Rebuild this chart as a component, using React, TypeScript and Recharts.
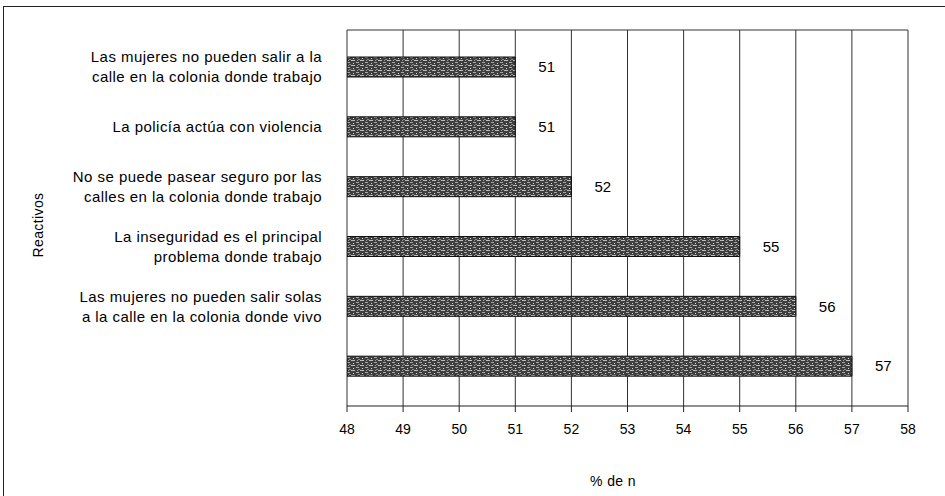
import React from 'react';
import { BarChart, Bar, XAxis, YAxis, CartesianGrid, LabelList, Customized } from 'recharts';

const categories: string[] = [
  'Las mujeres no pueden salir a la\ncalle en la colonia donde trabajo',
  'La policía actúa con violencia',
  'No se puede pasear seguro por las\ncalles en la colonia donde trabajo',
  'La inseguridad es el principal\nproblema donde trabajo',
  'Las mujeres no pueden salir solas\na la calle en la colonia donde vivo',
  ' ',
];
const values: number[] = [51, 51, 52, 55, 56, 57];
const xTicks: number[] = [48, 49, 50, 51, 52, 53, 54, 55, 56, 57, 58];
const xTitle = '% de n';
const yTitle = 'Reactivos';

const data = categories.map((c, i) => ({ cat: c, value: values[i] }));

const FONT = '"Liberation Sans", Arial, Helvetica, sans-serif';

const CategoryTick = (props: any) => {
  const { x, y, payload } = props;
  const lines = String(payload.value).split('\n');
  const lh = 20;
  const start = y - ((lines.length - 1) * lh) / 2;
  return (
    <text x={x} y={start} textAnchor="end" fontSize={15} letterSpacing={0.45} fill="#000" fontFamily={FONT}>
      {lines.map((l, i) => (
        <tspan key={i} x={x} y={start + i * lh} dy="0.35em">
          {l}
        </tspan>
      ))}
    </text>
  );
};

const Titles = () => (
  <g fontFamily={FONT} fill="#000">
    <text x={613} y={481} textAnchor="middle" dy="0.35em" fontSize={14} letterSpacing={0.4}>
      {xTitle}
    </text>
    <text x={38} y={225} textAnchor="middle" dy="0.35em" fontSize={14} letterSpacing={0.4} transform="rotate(-90 38 225)">
      {yTitle}
    </text>
  </g>
);

export default function App() {
  return (
    <div style={{ position: 'absolute', left: 0, top: 0, width: 945, height: 496, background: '#fff', overflow: 'hidden' }}>
      <div
        style={{
          position: 'absolute',
          left: 3,
          top: 6,
          width: 942,
          height: 490,
          boxSizing: 'border-box',
          borderTop: '1.5px solid #222',
          borderLeft: '1.5px solid #222',
        }}
      />
      <div style={{ position: 'absolute', left: 0, top: 0 }}>
        <BarChart
          width={945}
          height={496}
          data={data}
          layout="vertical"
          margin={{ top: 30, right: 37, bottom: 60, left: 0 }}
        >
          <defs>
            <pattern id="barTex" width="9" height="5" patternUnits="userSpaceOnUse">
              <rect width="9" height="5" fill="#3e3e3e" />
              <rect x="0" y="0" width="4" height="1" fill="#bdbdbd" />
              <rect x="5" y="2" width="3" height="1" fill="#a8a8a8" />
              <rect x="2" y="3" width="1" height="1" fill="#d8d8d8" />
              <rect x="7" y="4" width="2" height="1" fill="#8a8a8a" />
              <rect x="6" y="0" width="1" height="1" fill="#9a9a9a" />
            </pattern>
          </defs>
          <CartesianGrid
            vertical
            horizontal
            horizontalPoints={[30]}
            stroke="#333"
            strokeWidth={1}
          />
          <XAxis
            type="number"
            domain={[48, 58]}
            ticks={xTicks}
            allowDataOverflow
            height={30}
            tickSize={6}
            tickMargin={12}
            axisLine={{ stroke: '#222', strokeWidth: 1.2 }}
            tickLine={{ stroke: '#222' }}
            tick={{ fontSize: 14, fill: '#000', fontFamily: FONT }}
            interval={0}
          />
          <YAxis
            type="category"
            dataKey="cat"
            width={347}
            padding={{ top: 7, bottom: 10 }}
            axisLine={false}
            tickLine={false}
            tickSize={6}
            tickMargin={19}
            tick={<CategoryTick />}
            interval={0}
          />
          <Bar dataKey="value" barSize={20} fill="url(#barTex)" stroke="#111" strokeWidth={1} isAnimationActive={false}>
            <LabelList dataKey="value" position="right" offset={23} fontSize={15} fill="#000" fontFamily={FONT} />
          </Bar>
          <Customized component={Titles} />
        </BarChart>
      </div>
    </div>
  );
}
